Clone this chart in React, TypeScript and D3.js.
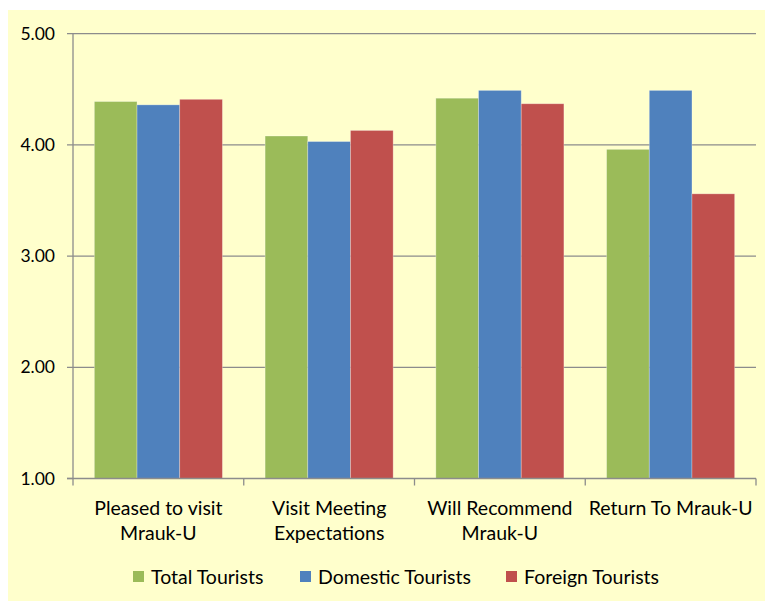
import React from "react";
import * as d3 from "d3";

const categories: string[][] = [
  ["Pleased to visit", "Mrauk-U"],
  ["Visit Meeting", "Expectations"],
  ["Will Recommend", "Mrauk-U"],
  ["Return To Mrauk-U"],
];
const seriesNames = ["Total Tourists", "Domestic Tourists", "Foreign Tourists"];
const totalTourists = [4.39, 4.08, 4.42, 3.96];
const domesticTourists = [4.36, 4.03, 4.49, 4.49];
const foreignTourists = [4.41, 4.13, 4.37, 3.56];
const yTicks = [1, 2, 3, 4, 5];
const colors = ["#9BBB59", "#4F81BD", "#C0504D"];

const W = 767;
const H = 603;
const left = 73;
const right = 756;
const top = 33.7;
const bottom = 478.5;
const font = "Lato, 'Open Sans', sans-serif";

export default function App() {
  const series = [totalTourists, domesticTourists, foreignTourists];
  const x = d3
    .scaleBand<number>()
    .domain(d3.range(categories.length))
    .range([left, right])
    .paddingInner(0)
    .paddingOuter(0);
  const inner = d3
    .scaleBand<number>()
    .domain(d3.range(series.length))
    .range([0, x.bandwidth()])
    .paddingOuter(0.5)
    .paddingInner(0);
  const y = d3.scaleLinear().domain([1, 5]).range([bottom, top]);
  const grid = "#8c8c8c";

  const legendItems = [
    { x: 133, label: seriesNames[0] },
    { x: 300, label: seriesNames[1] },
    { x: 506, label: seriesNames[2] },
  ];

  return (
    <svg
      width={W}
      height={H}
      style={{ position: "absolute", left: 0, top: 0, background: "#ffffff" }}
      fontFamily={font}
    >
      <rect x={8} y={10} width={757} height={591} fill="#FFFFCC" />
      {/* horizontal gridlines */}
      {yTicks.map((t) => (
        <line
          key={"g" + t}
          x1={left - 6}
          x2={t === 1 ? left : right}
          y1={y(t)}
          y2={y(t)}
          stroke={grid}
          strokeWidth={1.3}
        />
      ))}
      {/* bars */}
      {categories.map((_, ci) =>
        series.map((vals, si) => (
          <rect
            key={`b${ci}-${si}`}
            x={(x(ci) as number) + (inner(si) as number)}
            y={y(vals[ci])}
            width={inner.bandwidth()}
            height={y(1) - y(vals[ci])}
            fill={colors[si]}
            stroke="rgba(255,255,255,0.35)"
            strokeWidth={0.8}
          />
        ))
      )}
      {/* axes */}
      <line x1={left} x2={left} y1={top} y2={bottom} stroke={grid} strokeWidth={1.3} />
      <line x1={left - 6} x2={right} y1={bottom} y2={bottom} stroke={grid} strokeWidth={1.3} />
      {d3.range(categories.length + 1).map((i) => {
        const xx = left + i * x.bandwidth();
        return (
          <line key={"t" + i} x1={xx} x2={xx} y1={bottom} y2={bottom + 7} stroke={grid} strokeWidth={1.3} />
        );
      })}
      {/* y tick labels */}
      {yTicks.map((t) => (
        <text
          key={"yl" + t}
          x={55}
          y={y(t)}
          dy="0.35em"
          textAnchor="end"
          fontSize={17.5}
          fill="#000"
        >
          {t.toFixed(2)}
        </text>
      ))}
      {/* category labels */}
      {categories.map((lines, ci) => (
        <text
          key={"c" + ci}
          x={(x(ci) as number) + x.bandwidth() / 2}
          y={508}
          textAnchor="middle"
          fontSize={19.5}
          fill="#000"
        >
          {lines.map((ln, li) => (
            <tspan key={li} x={(x(ci) as number) + x.bandwidth() / 2} y={508 + li * 25} dy="0.35em">
              {ln}
            </tspan>
          ))}
        </text>
      ))}
      {/* legend */}
      {legendItems.map((it, i) => (
        <g key={"l" + i}>
          <rect x={it.x} y={571} width={11} height={11} fill={colors[i]} />
          <text x={it.x + 18} y={577} dy="0.35em" fontSize={19.5} fill="#000">
            {it.label}
          </text>
        </g>
      ))}
    </svg>
  );
}
